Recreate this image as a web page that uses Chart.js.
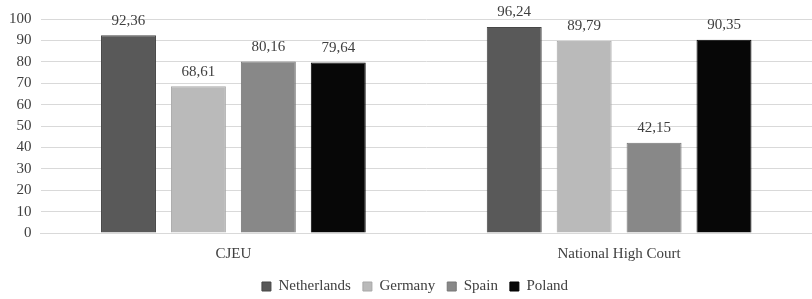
<!DOCTYPE html>
<html><head><meta charset="utf-8">
<script src="https://cdn.jsdelivr.net/npm/chart.js@4"></script>
<style>html,body{margin:0;padding:0;background:#fff}#wrap{width:812px;height:299px}</style>
</head><body><div id="wrap"><canvas id="c" width="812" height="299"></canvas></div>
<script>
const categories = ["CJEU", "National High Court"];
const netherlands = [92.36, 96.24];
const germany = [68.61, 89.79];
const spain = [80.16, 42.15];
const poland = [79.64, 90.35];
const yTicks = [0,10,20,30,40,50,60,70,80,90,100];

const FONT = "'Liberation Serif', 'DejaVu Serif', serif";

const labelPlugin = {
  id: 'valLabels',
  afterLayout(chart) {
    if (chart.legend) { chart.legend.left += 9; chart.legend.right += 9; }
  },
  afterDatasetsDraw(chart) {
    const ctx = chart.ctx;
    ctx.save();
    ctx.font = "15px " + FONT;
    ctx.fillStyle = "#404040";
    ctx.textAlign = "center";
    ctx.textBaseline = "bottom";
    chart.data.datasets.forEach((ds, i) => {
      chart.getDatasetMeta(i).data.forEach((el, j) => {
        ctx.fillText(ds.data[j].toFixed(2).replace('.', ','), el.x, el.y - 7);
      });
    });
    ctx.restore();
  }
};

const mk = (label, data, bg, bd) => ({label, data, backgroundColor: bg, borderColor: bd, borderWidth: 1,
  categoryPercentage: 0.725, barPercentage: 0.786});

new Chart(document.getElementById('c'), {
  type: 'bar',
  data: {
    labels: categories,
    datasets: [
      mk("Netherlands", netherlands, "#595959", "#474747"),
      mk("Germany", germany, "#bababa", "#a8a8a8"),
      mk("Spain", spain, "#888888", "#767676"),
      mk("Poland", poland, "#070707", "#000000")
    ]
  },
  options: {
    responsive: false,
    animation: false,
    layout: {padding: {left: 0, right: 0, top: 16, bottom: -5}},
    plugins: {
      legend: {position: 'bottom', labels: {boxWidth: 9, boxHeight: 9, padding: 12, color: "#404040", font: {family: FONT, size: 15}}},
      tooltip: {enabled: false}
    },
    scales: {
      x: {grid: {display: false}, border: {display: true, color: "#d9d9d9"},
          ticks: {color: "#404040", font: {family: FONT, size: 15}, padding: 4}},
      y: {min: 0, max: 100, afterBuildTicks: (s) => { s.ticks = yTicks.map(v => ({value: v})); },
          afterFit: (s) => { s.paddingTop = Math.max(s.paddingTop, 19); },
          grid: {color: "#d9d9d9", drawTicks: false}, border: {display: false},
          ticks: {color: "#404040", font: {family: FONT, size: 15}, padding: 9, autoSkip: false}}
    }
  },
  plugins: [labelPlugin]
});
</script></body></html>
